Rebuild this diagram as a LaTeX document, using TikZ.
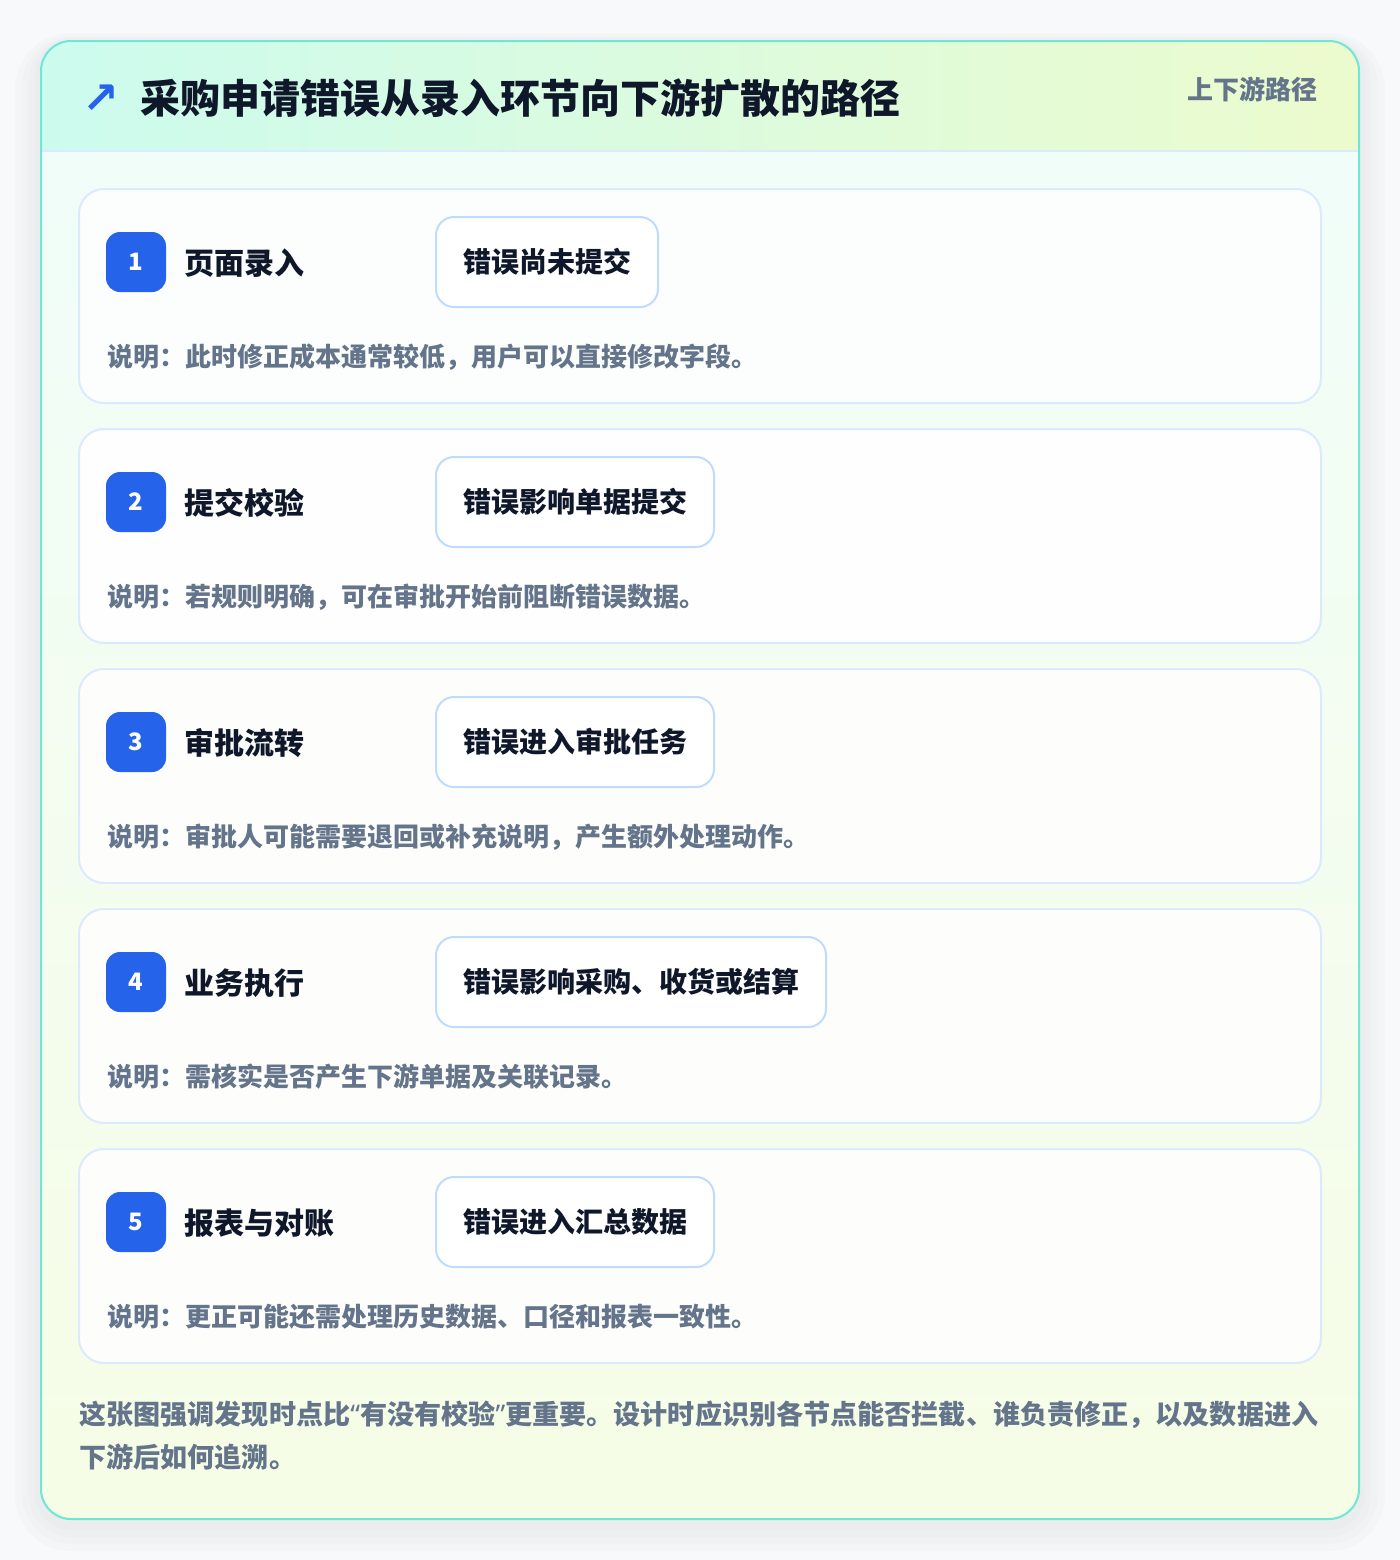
\documentclass[tikz,border=0pt]{standalone}
\usepackage{fontspec}
\setmainfont{Noto Sans CJK SC}
\newfontfamily\arrowfont{DejaVu Sans}
\newfontfamily\latinfont{Noto Sans}
\definecolor{Page}{RGB}{248,249,250}
\definecolor{Shadow}{RGB}{120,120,130}
\definecolor{Teal}{RGB}{110,231,212}
\definecolor{Mint}{RGB}{204,251,238}
\definecolor{Lime}{RGB}{236,251,205}
\definecolor{BodyTop}{RGB}{240,253,250}
\definecolor{BodyBot}{RGB}{246,253,230}
\definecolor{Ink}{RGB}{15,23,42}
\definecolor{Slate}{RGB}{100,116,139}
\definecolor{Royal}{RGB}{37,99,235}
\definecolor{CardLine}{RGB}{219,234,254}
\definecolor{PillLine}{RGB}{191,219,254}

\tikzset{
  haze/.style={fill=Shadow, fill opacity=0.025},
  stepcard/.style={draw=CardLine, line width=1pt, fill=white, fill opacity=0.85, rounded corners=12.5pt},
  badge/.style={fill=Royal, text=white, rounded corners=7pt, minimum size=30pt, inner sep=0pt,
    font=\bfseries\fontsize{12}{14}\selectfont},
  steptitle/.style={anchor=west, text=Ink, inner sep=0pt, font=\bfseries\fontsize{15}{18}\selectfont},
  pill/.style={anchor=west, draw=PillLine, line width=1pt, fill=white, rounded corners=9pt,
    minimum height=45pt, inner xsep=13.5pt, text=Ink, font=\bfseries\fontsize{14}{17}\selectfont},
  note/.style={anchor=west, text=Slate, inner sep=0pt, font=\bfseries\fontsize{13}{16}\selectfont},
  footnote/.style={anchor=west, text=Slate, inner sep=0pt, font=\bfseries\fontsize{13.55}{16}\selectfont}
}
\newcommand{\openq}{{\latinfont “}}
\newcommand{\closeq}{{\latinfont ”}}

\begin{document}
\begin{tikzpicture}[x=0.5pt,y=-0.5pt]
%\draw[help lines,step=100] (0,0) grid (1400,1560);
\useasboundingbox (0,0) rectangle (1400,1560);
\fill[Page] (0,0) rectangle (1400,1560);
% soft shadow of the outer card
\fill[haze, rounded corners=28pt] (15,33) rectangle (1385,1551);
\fill[haze, rounded corners=25pt] (22,36) rectangle (1378,1544);
\fill[haze, rounded corners=21pt] (29,38) rectangle (1371,1537);
\fill[haze, rounded corners=18pt] (35,40) rectangle (1365,1530);
% outer card
\shade[top color=BodyTop, bottom color=BodyBot, rounded corners=15pt] (41,41) rectangle (1359,1519);
\begin{scope}
  \clip[rounded corners=15pt] (41,41) rectangle (1359,1519);
  \shade[left color=Mint, right color=Lime] (41,41) rectangle (1359,151);
\end{scope}
\draw[CardLine, line width=1pt] (41,151) -- (1359,151);
\draw[Teal, line width=1pt, rounded corners=15pt] (41,41) rectangle (1359,1519);

\node[text=Royal, inner sep=0pt, font=\arrowfont\bfseries\fontsize{22}{24}\selectfont] (icon) at (101,99) {↗};
\node[anchor=west, inner sep=0pt, text=Ink, font=\bfseries\fontsize{20}{24}\selectfont] (title) at (140,98)
  {采购申请错误从录入环节向下游扩散的路径};
\node[anchor=east, inner sep=0pt, text=Slate, font=\bfseries\fontsize{13}{16}\selectfont] (tag) at (1318,89) {上下游路径};

% step 1
\draw[stepcard] (79,189) rectangle (1321,403);
\node[badge] (badge1) at (136,262) {1};
\node[steptitle] (title1) at (184,263) {页面录入};
\node[pill] (pill1) at (435,262) {错误尚未提交};
\node[note] (note1) at (107,357) {说明：此时修正成本通常较低，用户可以直接修改字段。};

% step 2
\draw[stepcard] (79,429) rectangle (1321,643);
\node[badge] (badge2) at (136,502) {2};
\node[steptitle] (title2) at (184,503) {提交校验};
\node[pill] (pill2) at (435,502) {错误影响单据提交};
\node[note] (note2) at (107,597) {说明：若规则明确，可在审批开始前阻断错误数据。};

% step 3
\draw[stepcard] (79,669) rectangle (1321,883);
\node[badge] (badge3) at (136,742) {3};
\node[steptitle] (title3) at (184,743) {审批流转};
\node[pill] (pill3) at (435,742) {错误进入审批任务};
\node[note] (note3) at (107,837) {说明：审批人可能需要退回或补充说明，产生额外处理动作。};

% step 4
\draw[stepcard] (79,909) rectangle (1321,1123);
\node[badge] (badge4) at (136,982) {4};
\node[steptitle] (title4) at (184,983) {业务执行};
\node[pill] (pill4) at (435,982) {错误影响采购、收货或结算};
\node[note] (note4) at (107,1077) {说明：需核实是否产生下游单据及关联记录。};

% step 5
\draw[stepcard] (79,1149) rectangle (1321,1363);
\node[badge] (badge5) at (136,1222) {5};
\node[steptitle] (title5) at (184,1223) {报表与对账};
\node[pill] (pill5) at (435,1222) {错误进入汇总数据};
\node[note] (note5) at (107,1317) {说明：更正可能还需处理历史数据、口径和报表一致性。};

\node[footnote] (foot1) at (79,1415) {这张图强调发现时点比\openq 有没有校验\closeq 更重要。设计时应识别各节点能否拦截、谁负责修正，以及数据进入};
\node[footnote] (foot2) at (79,1457) {下游后如何追溯。};
\end{tikzpicture}
\end{document}
